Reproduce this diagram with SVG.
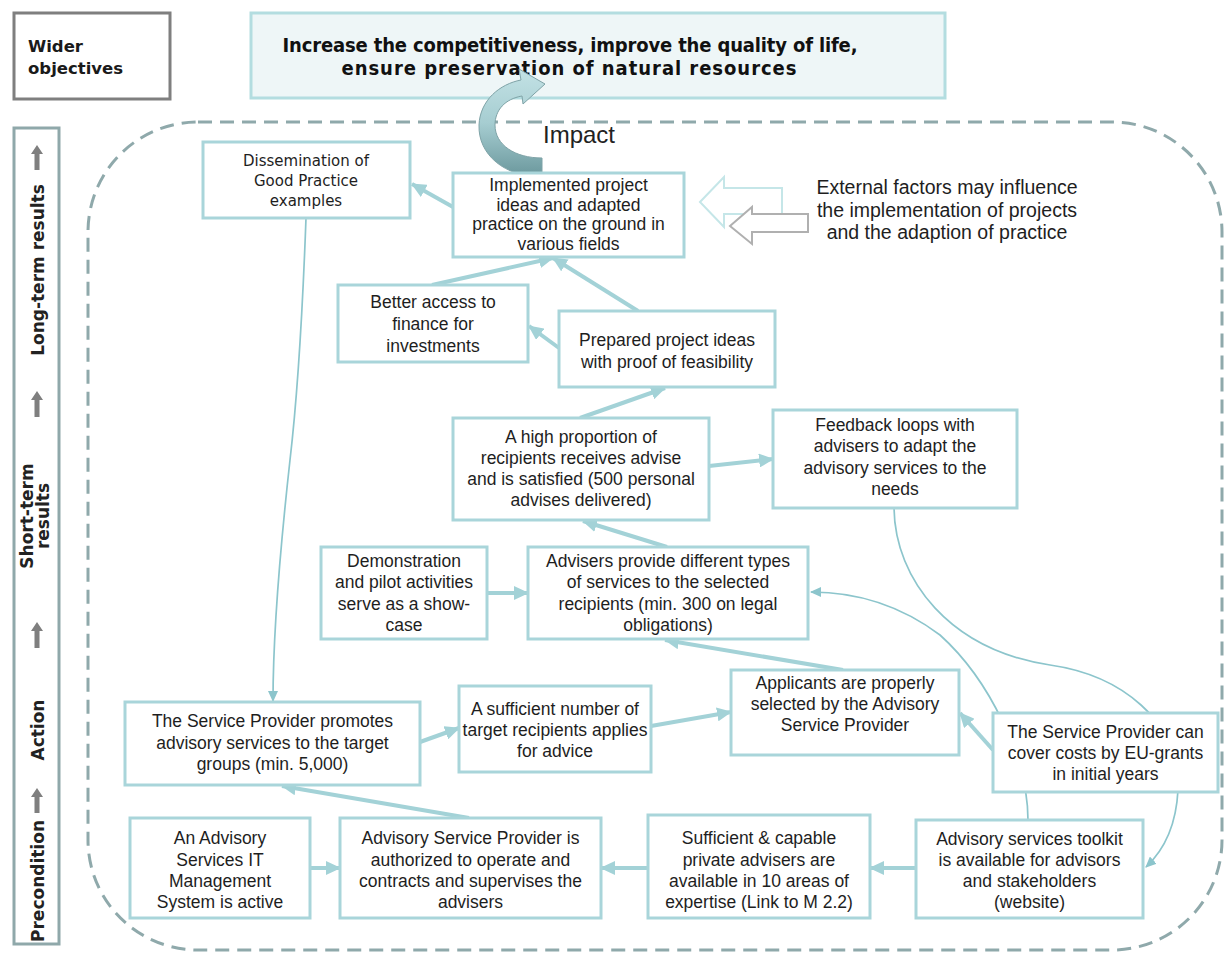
<svg xmlns="http://www.w3.org/2000/svg" width="1227" height="956" viewBox="0 0 1227 956">
<defs>
<style>
.box{fill:#fff;stroke:#a9d5da;stroke-width:3}
.t{font-family:"Liberation Sans",Arial,sans-serif;font-size:17.5px;fill:#1e1e1e;text-anchor:middle}
.ext{font-family:"Liberation Sans",Arial,sans-serif;font-size:19.5px;fill:#1e1e1e;text-anchor:middle}
.thick{stroke:#a3d2d7;stroke-width:4;fill:none;marker-end:url(#ah)}
.thin{stroke:#8cc5cc;stroke-width:1.7;fill:none;marker-end:url(#ahs)}
.side{font-family:"DejaVu Sans",Verdana,sans-serif;font-weight:bold;font-size:17px;fill:#222;text-anchor:middle}
.goal{font-family:"DejaVu Sans Condensed","DejaVu Sans",sans-serif;font-stretch:condensed;font-weight:bold;font-size:20px;fill:#111;text-anchor:middle}
.dis{font-family:"DejaVu Sans",Verdana,sans-serif;font-size:15px;fill:#1e1e1e;text-anchor:middle}
.sa{fill:#7f7f7f}
</style>
<marker id="ah" markerUnits="userSpaceOnUse" markerWidth="15" markerHeight="14" refX="14" refY="7" orient="auto"><path d="M0,0 L15,7 L0,14 Z" fill="#a3d2d7"/></marker>
<marker id="ahs" markerUnits="userSpaceOnUse" markerWidth="11" markerHeight="10" refX="10" refY="5" orient="auto"><path d="M0,0 L11,5 L0,10 Z" fill="#8cc5cc"/></marker>
<linearGradient id="ig" x1="0" y1="0" x2="0" y2="1"><stop offset="0" stop-color="#c3e2e5"/><stop offset="0.5" stop-color="#a6cdd1"/><stop offset="1" stop-color="#6a979c"/></linearGradient>
</defs>

<g id="wider-objectives">
<rect x="14" y="13" width="156" height="86" fill="#fff" stroke="#7f7f7f" stroke-width="3"/>
<text x="28" y="52" font-family="DejaVu Sans,Verdana,sans-serif" font-weight="bold" font-size="16.5" fill="#1a1a1a">Wider</text>
<text x="28" y="74" font-family="DejaVu Sans,Verdana,sans-serif" font-weight="bold" font-size="16.5" fill="#1a1a1a">objectives</text>
</g>

<g id="goal">
<rect x="251" y="13" width="694" height="85" fill="#eef6f7" stroke="#b3dde0" stroke-width="3"/>
<text class="goal" x="570" y="52" textLength="575">Increase the competitiveness, improve the quality of life,</text>
<text class="goal" x="569" y="75" textLength="455">ensure preservation of natural resources</text>
</g>

<g id="sidebar">
<rect x="14" y="128" width="45" height="816" fill="#fff" stroke="#8fa8aa" stroke-width="3"/>
<polygon class="sa" points="37,145 31,154 34.5,154 34.5,170 39.5,170 39.5,154 43,154"/>
<polygon class="sa" points="37,391 31,400 34.5,400 34.5,417 39.5,417 39.5,400 43,400"/>
<polygon class="sa" points="37,622 31,631 34.5,631 34.5,648 39.5,648 39.5,631 43,631"/>
<polygon class="sa" points="37,788 31,797 34.5,797 34.5,813 39.5,813 39.5,797 43,797"/>
<text class="side" x="44" y="270" transform="rotate(-90 44 270)">Long-term results</text>
<text class="side" x="33" y="516" transform="rotate(-90 33 516)">Short-term</text>
<text class="side" x="49" y="516" transform="rotate(-90 49 516)">results</text>
<text class="side" x="44" y="730" transform="rotate(-90 44 730)">Action</text>
<text class="side" x="44" y="881" transform="rotate(-90 44 881)">Precondition</text>
</g>

<g id="boundary">
<rect x="88" y="122" width="1134" height="828" rx="110" ry="110" fill="none" stroke="#8fa9ab" stroke-width="3" stroke-dasharray="14 8"/>
</g>

<g id="impact">
<path d="M542 177 C505 177 478 155 479 125 C480 100 500 84 521 80 L519 69 L545 84 L523 104 L522 96 C505 99 495 110 495 125 C495 145 515 158 542 158 Z" fill="url(#ig)" stroke="#7fa3a7" stroke-width="1"/>
<text x="543" y="143" font-family="Liberation Sans,Arial,sans-serif" font-size="24" fill="#222">Impact</text>
</g>

<g id="external-factors">
<polygon points="700,202 724,177 724,188 782,188 782,214 724,214 724,227" fill="#fff" stroke="#c5e6e8" stroke-width="2"/>
<polygon points="730,226 752,207 752,214 808,214 808,232 752,232 752,244" fill="#fff" stroke="#b0b0b0" stroke-width="2"/>
<text class="ext" x="947" y="194">External factors may influence</text>
<text class="ext" x="947" y="216.5">the implementation  of projects</text>
<text class="ext" x="947" y="239">and the adaption of practice</text>
</g>

<g id="connectors">
<path class="thin" d="M306 218 C303 300 297 400 290 460 C280 550 273 640 273 701"/>
<path class="thin" d="M1028 820 C1028 760 990 680 940 635 C900 605 855 592 811 592"/>
<path class="thin" d="M894 508 C895 580 950 650 1050 665 C1120 675 1180 720 1178 790 C1176 830 1162 852 1146 867"/>
<path class="thick" d="M453 207 L412 184"/>
<path class="thick" d="M432 285 L553 258"/>
<path class="thick" d="M638 311 L553 258"/>
<path class="thick" d="M559 348 L529 326"/>
<path class="thick" d="M580 418 L665 388"/>
<path class="thick" d="M709 466 L773 459"/>
<path class="thick" d="M667 547 L583 521"/>
<path class="thick" d="M487 593 L528 593"/>
<path class="thick" d="M843 670 L665 640"/>
<path class="thick" d="M420 742 L459 728"/>
<path class="thick" d="M651 726 L731 712"/>
<path class="thick" d="M993 750 L960 713"/>
<path class="thick" d="M469 818 L282 786"/>
<path class="thick" d="M310 868 L340 868"/>
<path class="thick" d="M648 868 L601 868"/>
<path class="thick" d="M916 868 L870 868"/>
</g>

<g id="dissemination">
<rect class="box" x="203" y="142" width="207" height="76"/>
<text class="dis" x="306" y="166">Dissemination of</text>
<text class="dis" x="306" y="186">Good Practice</text>
<text class="dis" x="306" y="206">examples</text>
</g>

<g id="implemented">
<rect class="box" x="453" y="173" width="231" height="84"/>
<text class="t" x="568.5" y="191">Implemented project</text>
<text class="t" x="568.5" y="210.5">ideas and adapted</text>
<text class="t" x="568.5" y="230">practice on the ground in</text>
<text class="t" x="568.5" y="249.5">various fields</text>
</g>

<g id="better-access">
<rect class="box" x="338" y="285" width="190" height="77"/>
<text class="t" x="433" y="308">Better access to</text>
<text class="t" x="433" y="330">finance for</text>
<text class="t" x="433" y="352">investments</text>
</g>

<g id="prepared">
<rect class="box" x="559" y="311" width="216" height="76"/>
<text class="t" x="667" y="346">Prepared project ideas</text>
<text class="t" x="667" y="368">with proof of feasibility</text>
</g>

<g id="high-proportion">
<rect class="box" x="453" y="418" width="256" height="102"/>
<text class="t" x="581" y="443">A high proportion of</text>
<text class="t" x="581" y="464">recipients receives advise</text>
<text class="t" x="581" y="485">and is satisfied (500 personal</text>
<text class="t" x="581" y="506">advises delivered)</text>
</g>

<g id="feedback">
<rect class="box" x="773" y="410" width="244" height="98"/>
<text class="t" x="895" y="431">Feedback loops with</text>
<text class="t" x="895" y="452">advisers to adapt the</text>
<text class="t" x="895" y="474">advisory services to the</text>
<text class="t" x="895" y="495">needs</text>
</g>

<g id="demonstration">
<rect class="box" x="321" y="547" width="166" height="92"/>
<text class="t" x="404" y="567">Demonstration</text>
<text class="t" x="404" y="588">and pilot activities</text>
<text class="t" x="404" y="610">serve as a show-</text>
<text class="t" x="404" y="631">case</text>
</g>

<g id="advisers-provide">
<rect class="box" x="528" y="547" width="280" height="92"/>
<text class="t" x="668" y="567">Advisers provide different types</text>
<text class="t" x="668" y="588">of services to the selected</text>
<text class="t" x="668" y="610">recipients (min. 300 on legal</text>
<text class="t" x="668" y="631">obligations)</text>
</g>

<g id="applicants">
<rect class="box" x="731" y="670" width="228" height="85"/>
<text class="t" x="845" y="689">Applicants are properly</text>
<text class="t" x="845" y="710">selected by the Advisory</text>
<text class="t" x="845" y="731">Service Provider</text>
</g>

<g id="promotes">
<rect class="box" x="125" y="702" width="295" height="83"/>
<text class="t" x="272.5" y="727">The Service Provider promotes</text>
<text class="t" x="272.5" y="749">advisory services to the target</text>
<text class="t" x="272.5" y="770">groups (min. 5,000)</text>
</g>

<g id="sufficient-number">
<rect class="box" x="459" y="686" width="192" height="86"/>
<text class="t" x="555" y="715">A sufficient number of</text>
<text class="t" x="555" y="736">target recipients applies</text>
<text class="t" x="555" y="757">for advice</text>
</g>

<g id="eu-grants">
<rect class="box" x="993" y="713" width="225" height="79"/>
<text class="t" x="1105.5" y="738">The Service Provider can</text>
<text class="t" x="1105.5" y="759">cover costs by EU-grants</text>
<text class="t" x="1105.5" y="780">in initial years</text>
</g>

<g id="it-system">
<rect class="box" x="130" y="818" width="180" height="100"/>
<text class="t" x="220" y="844">An Advisory</text>
<text class="t" x="220" y="866">Services IT</text>
<text class="t" x="220" y="887">Management</text>
<text class="t" x="220" y="908">System is active</text>
</g>

<g id="service-provider">
<rect class="box" x="340" y="818" width="261" height="100"/>
<text class="t" x="470.5" y="844">Advisory Service Provider is</text>
<text class="t" x="470.5" y="866">authorized to operate and</text>
<text class="t" x="470.5" y="887">contracts and supervises the</text>
<text class="t" x="470.5" y="908">advisers</text>
</g>

<g id="private-advisers">
<rect class="box" x="648" y="815" width="222" height="103"/>
<text class="t" x="759" y="844">Sufficient &amp; capable</text>
<text class="t" x="759" y="866">private advisers are</text>
<text class="t" x="759" y="887">available in 10 areas of</text>
<text class="t" x="759" y="908">expertise  (Link to M 2.2)</text>
</g>

<g id="toolkit">
<rect class="box" x="916" y="820" width="227" height="98"/>
<text class="t" x="1029.5" y="845">Advisory services toolkit</text>
<text class="t" x="1029.5" y="866">is available for advisors</text>
<text class="t" x="1029.5" y="887">and stakeholders</text>
<text class="t" x="1029.5" y="908">(website)</text>
</g>
</svg>
